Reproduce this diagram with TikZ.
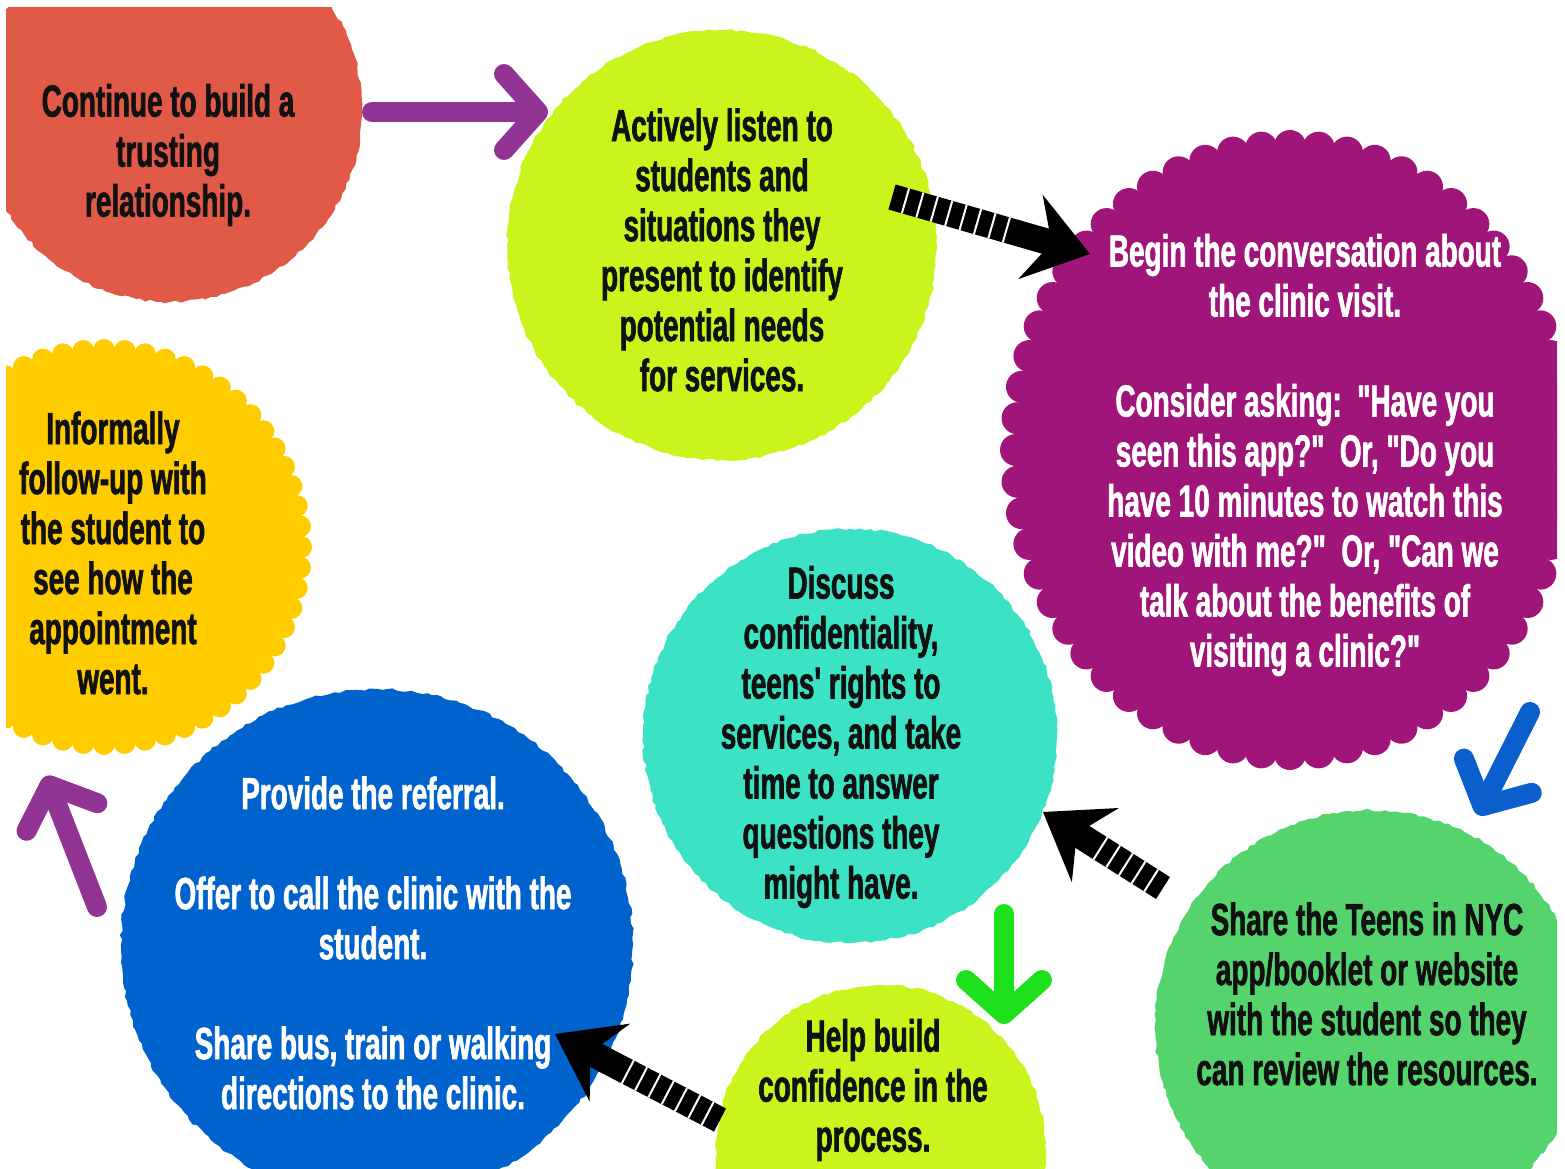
\documentclass[tikz,border=0pt]{standalone}
\usepackage{fontspec}
\newfontfamily\slimfont[FakeStretch=0.62, FakeBold=1.4]{Liberation Sans}
\usetikzlibrary{arrows.meta,calc,decorations.pathmorphing}
\usepackage{xcolor}
\definecolor{brickred}{RGB}{224,90,71}
\definecolor{acidlime}{RGB}{202,245,28}
\definecolor{plum}{RGB}{160,21,122}
\definecolor{marigold}{RGB}{255,204,0}
\definecolor{cobalt}{RGB}{0,98,204}
\definecolor{aqua}{RGB}{59,227,196}
\definecolor{meadow}{RGB}{85,212,110}
\definecolor{orchid}{RGB}{146,52,147}
\definecolor{azure}{RGB}{10,95,204}
\definecolor{neon}{RGB}{30,225,30}
\definecolor{ink}{RGB}{17,17,17}

\tikzset{
  rough/.style={decorate, decoration={random steps, segment length=5pt, amplitude=1.4pt}},
  says/.style={align=center, inner sep=0pt, text=ink,
    font=\slimfont\bfseries\fontsize{45}{50}\selectfont},
  plainarrow/.style={line width=20pt, line cap=round,
    -{Straight Barb[length=34pt, width=76pt, round]}},
  hatcharrow/.style={line width=26pt,
    -{Stealth[length=62pt, width=88pt, inset=22pt, line width=0pt]}},
  hatchlines/.style={white, line width=26pt, dash pattern=on 2pt off 13pt, dash phase=2pt}
}

\begin{document}
\begin{tikzpicture}[x=1pt, y=-1pt]
    \useasboundingbox (0,0) rectangle (1565,1169);
    \pgfmathsetseed{11}
    % painted discs, trimmed to the page area
    \begin{scope}
      \clip (6,8) rectangle (1557,1169);
      \fill[brickred, rough] (170,110) circle (192);
      \fill[acidlime, rough] (722,245) circle (215);
      % scalloped discs: body plus a ring of small bumps
      \fill[plum] (1290,450) ellipse [x radius=274, y radius=304];
      \foreach \a in {0,6,...,354}
        \fill[plum] ($(1290,450)+(\a:274 and 304)$) circle (16);
      \fill[marigold] (104,547) circle (197);
      \foreach \a in {0,6,...,354}
        \fill[marigold] ($(104,547)+(\a:197)$) circle (11);
      \fill[cobalt, rough] (377,945) circle (256);
      \fill[aqua, rough] (850,736) circle (207);
      \fill[meadow, rough] (1370,1025) circle (215);
      \fill[acidlime, rough] (881,1150) circle (165);
    \end{scope}

    % arrow ends
    \coordinate (a1) at (372,112);  \coordinate (b1) at (548,112);
    \coordinate (a2) at (892,197);  \coordinate (b2) at (1090,254);
    \coordinate (a3) at (1530,712); \coordinate (b3) at (1478,815);
    \coordinate (a4) at (1163,888); \coordinate (b4) at (1043,812);
    \coordinate (a5) at (1004,914); \coordinate (b5) at (1004,1024);
    \coordinate (a6) at (720,1120); \coordinate (b6) at (555,1034);
    \coordinate (a7) at (97,907);   \coordinate (b7) at (46,776);

    % rounded arrows
    \draw[plainarrow, orchid] (a1) -- (b1);
    \draw[plainarrow, azure] (a3) -- (b3);
    \draw[plainarrow, neon] (a5) -- (b5);
    \draw[plainarrow, orchid] (a7) -- (b7);
    % striped arrows
    \foreach \i/\f in {2/0.62, 4/0.55, 6/0.58} {
      \draw[hatcharrow] (a\i) -- (b\i);
      \draw[hatchlines] (a\i) -- ($(a\i)!\f!(b\i)$);
    }

    % step texts
    \node[says] (continue) at (168,155) {Continue to build a\\trusting\\relationship.};
    \node[says] (listen) at (722,250) {Actively listen to\\students and\\situations they\\present to identify\\potential needs\\for services.};
    \node[says, text=white] (begin) at (1305,455) {Begin the conversation about\\the clinic visit.\\[50pt]Consider asking:\ \ "Have you\\seen this app?"\ \ Or, "Do you\\have 10 minutes to watch this\\video with me?"\ \ Or, "Can we\\talk about the benefits of\\visiting a clinic?"};
    \node[says] (informal) at (113,553) {Informally\\follow-up with\\the student to\\see how the\\appointment\\went.};
    \node[says, text=white] (referral) at (373,943) {Provide the referral.\\[50pt]Offer to call the clinic with the\\student.\\[50pt]Share bus, train or walking\\directions to the clinic.};
    \node[says] (discuss) at (841,737) {Discuss\\confidentiality,\\teens' rights to\\services, and take\\time to answer\\questions they\\might have.};
    \node[says] (share) at (1367,994) {Share the Teens in NYC\\app/booklet or website\\with the student so they\\can review the resources.};
    \node[says] (confidence) at (873,1090) {Help build\\confidence in the\\process.};
\end{tikzpicture}
\end{document}
